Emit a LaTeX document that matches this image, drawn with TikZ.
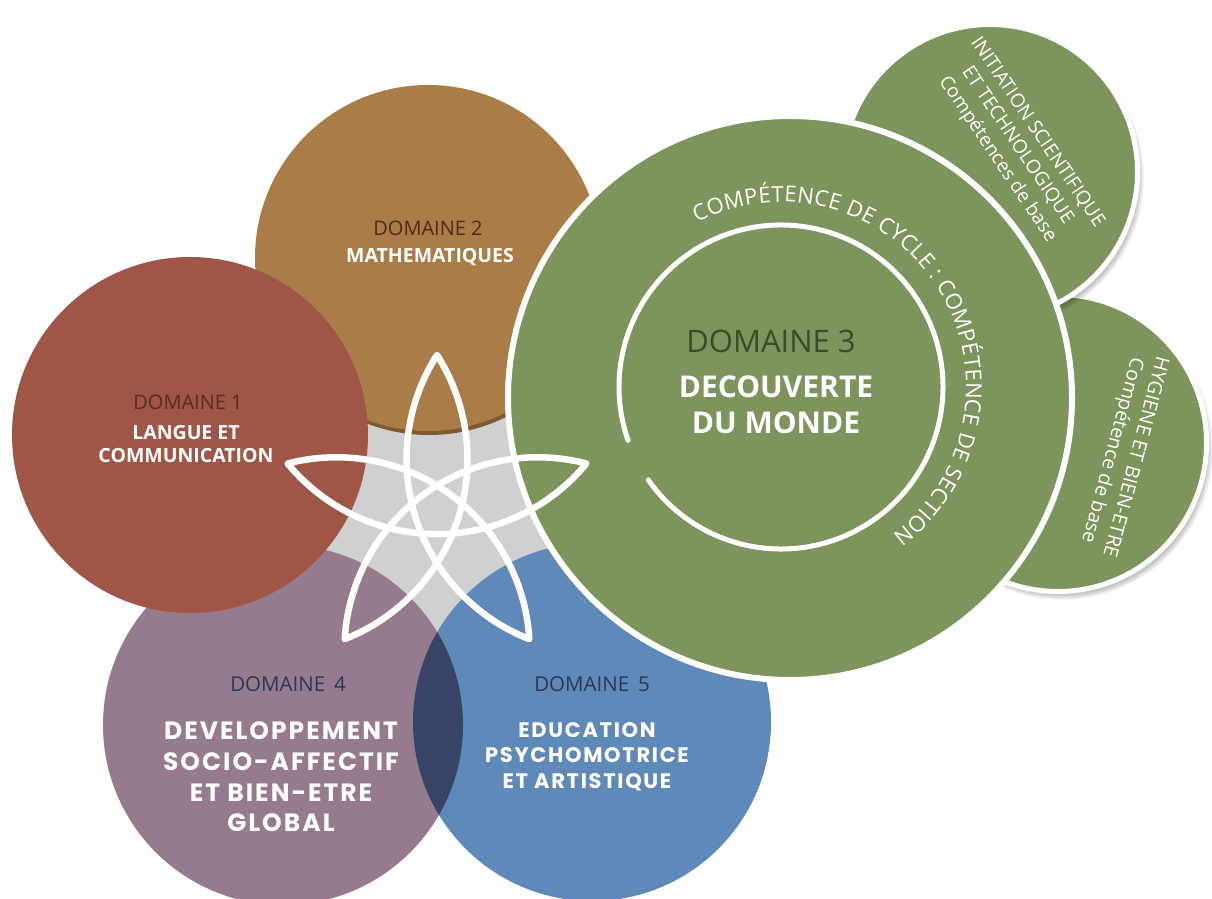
\documentclass[tikz,border=0pt]{standalone}
\usepackage{fontspec}
\setmainfont{Open Sans}
\newfontfamily\popfont{Poppins}[LetterSpace=8]
\usetikzlibrary{decorations.text}
\definecolor{dA}{HTML}{A05646}
\definecolor{dB}{HTML}{A97C48}
\definecolor{dBsh}{HTML}{7E5A30}
\definecolor{dC}{HTML}{7D945C}
\definecolor{dD}{HTML}{967A8E}
\definecolor{dE}{HTML}{5E89B9}
\definecolor{ovl}{HTML}{384368}
\definecolor{gapgrey}{HTML}{D0D0D0}
\definecolor{labA}{HTML}{5A2A22}
\definecolor{labB}{HTML}{4E2A1A}
\definecolor{labC}{HTML}{3A4A2C}
\definecolor{labDE}{HTML}{2B3753}
\tikzset{
  ringed/.style={fill=#1, draw=white, line width=5pt},
  dlabel/.style={font=\fontsize{20}{20}\selectfont, inner sep=0pt},
  dtitle/.style={font=\bfseries\fontsize{19.5}{23}\selectfont, text=white, align=center, inner sep=0pt},
  smalltxt/.style={font=\fontsize{#1}{24}\selectfont, text=white, align=center, inner sep=0pt},
  poptitle/.style args={#1/#2}{font=\popfont\bfseries\fontsize{#1}{#2}\selectfont, text=white, align=center, inner sep=0pt},
  thinlabel/.style={font=\fontsize{20.5}{20.5}\selectfont, text=labDE, inner sep=0pt},
}
\begin{document}
\begin{tikzpicture}[x=1pt,y=1pt]
\useasboundingbox (0,0) rectangle (1212,898);
\fill[white] (0,0) rectangle (1212,898);
% grey gap behind the circles
\fill[gapgrey] (437,386) circle[radius=175pt];
% small circle 2 (shadow + disc)
\foreach \k in {0,...,5} \fill[black,opacity=0.04] (1062,449) circle[radius=146pt+\k pt];
\filldraw[ringed=dC] (1058,455) circle[radius=148.5pt];
% small circle 1
\foreach \k in {0,...,5} \fill[black,opacity=0.04] (994,720) circle[radius=145pt+\k pt];
\filldraw[ringed=dC] (990,726) circle[radius=147.5pt];
% domaine 2
\fill[dBsh] (429,636) circle[radius=173pt];
\fill[dB] (428,640) circle[radius=173pt];
% domaine 4 and 5
\fill[dD] (283,173) circle[radius=180pt];
\fill[dE] (592,176) circle[radius=179pt];
\begin{scope}
  \clip (592,176) circle[radius=179pt];
  \fill[ovl] (283,173) circle[radius=180pt];
\end{scope}
% domaine 1
\fill[dA] (190,463) circle[radius=178pt];
% domaine 3
\filldraw[fill=dC, draw=white, line width=6pt] (790,500) circle[radius=282pt];
\draw[white, line width=5pt, line cap=round] (781,511) ++(215:162pt) arc[start angle=215, end angle=559.2, radius=162pt];
\path[decorate, decoration={text along path, text align={fit to path},
  text={|\fontsize{22}{22}\selectfont\color{white}|COMPÉTENCE DE CYCLE : COMPÉTENCE DE SECTION}}]
  (781,511) ++(117:185pt) arc[start angle=117, end angle=-53, radius=185pt];
% labels
\node[dlabel, text=labB] (l2) at (428,670) {DOMAINE 2};
\node[dtitle] (t2) at (430,641) {MATHEMATIQUES};
\node[dlabel, text=labA] (l1) at (188,496) {DOMAINE 1};
\node[dtitle] (t1) at (186,453.5) {LANGUE ET\\COMMUNICATION};
\node[font=\fontsize{31}{31}\selectfont, text=labC, inner sep=0pt] (l3) at (771,557) {DOMAINE 3};
\node[font=\bfseries\fontsize{30}{36}\selectfont, text=white, align=center, inner sep=0pt] (t3) at (776,493) {DECOUVERTE\\DU MONDE};
\node[thinlabel] (l4) at (288,214) {DOMAINE\, 4};
\node[poptitle=25/30.7] (t4) at (281,121) {DEVELOPPEMENT\\SOCIO-AFFECTIF\\ET BIEN-ETRE\\GLOBAL};
\node[thinlabel] (l5) at (592,214) {DOMAINE\, 5};
\node[poptitle=21/25.5] (t5) at (587,141.5) {EDUCATION\\PSYCHOMOTRICE\\ET ARTISTIQUE};
\node[smalltxt=19, rotate=-56] (s1) at (1017,752) {INITIATION SCIENTIFIQUE\\ET TECHNOLOGIQUE\\Compétences de base};
\node[smalltxt=19.5, rotate=-105] (s2) at (1123,444.5) {HYGIENE ET BIEN-ETRE\\Compétence de base};
% star
\draw[white, line width=6.5pt, line join=round] (437,386) ++(90:157pt)
  arc[start angle=32.6, end angle=-68.6, radius=193.3pt]
  arc[start angle=176.6, end angle=75.4, radius=193.3pt]
  arc[start angle=-39.4, end angle=-140.6, radius=193.3pt]
  arc[start angle=104.6, end angle=3.4, radius=193.3pt]
  arc[start angle=248.6, end angle=147.4, radius=193.3pt] -- cycle;
\end{tikzpicture}
\end{document}
